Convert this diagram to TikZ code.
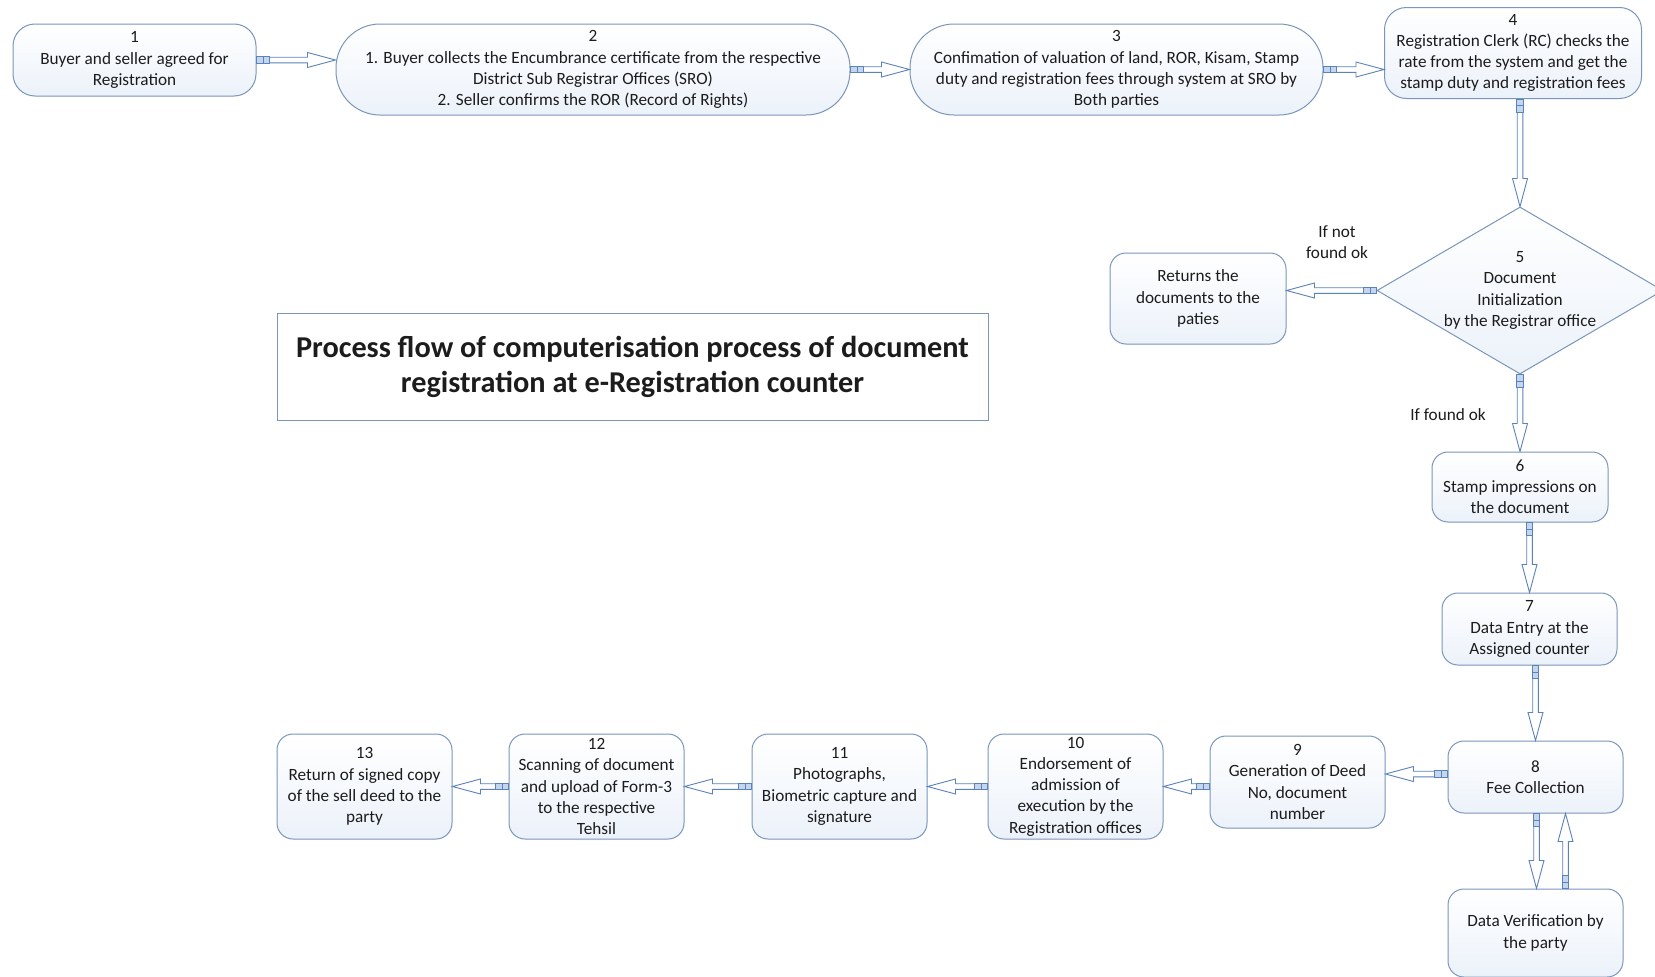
\documentclass[tikz,border=0pt]{standalone}
\usepackage{fontspec}
\setmainfont{Carlito}
\usetikzlibrary{calc,shapes.geometric}

\definecolor{boxline}{RGB}{122,150,186}
\definecolor{boxfill}{RGB}{236,242,250}
\definecolor{arrowline}{RGB}{92,130,186}
\definecolor{tailfill}{RGB}{196,214,238}
\definecolor{inktext}{RGB}{28,28,28}

\tikzset{
  stepbox/.style={draw=boxline, line width=1pt, rounded corners=16pt,
    top color=white, bottom color=boxfill, align=center, text=inktext,
    font=\fontsize{17.2}{21.2}\selectfont, inner sep=0pt},
  pillbox/.style={stepbox, rounded corners=44pt},
  decision/.style={draw=boxline, line width=1pt, diamond, top color=white,
    bottom color=boxfill, inner sep=0pt},
  plaintext/.style={align=center, text=inktext,
    font=\fontsize{17.2}{21.2}\selectfont, inner sep=0pt},
  titlebox/.style={draw=boxline, line width=1pt, fill=white, align=center,
    text=inktext, font=\fontsize{30.3}{35}\selectfont\bfseries, inner sep=0pt},
  arrowbody/.style={draw=arrowline, line width=0.9pt, fill=white, line join=miter},
  arrowtail/.style={draw=arrowline, line width=0.8pt, fill=tailfill},
}

% hollow block arrow with a small double-square tail, from #1 to #2
\newcommand{\flow}[2]{%
  \coordinate (fa) at (#1);
  \coordinate (fb) at (#2);
  \coordinate (ft) at ($(fa)!13pt!(fb)$);
  \coordinate (fh) at ($(fb)!28pt!(fa)$);
  \coordinate (fm) at ($(fa)!6.5pt!(fb)$);
  \path[arrowbody]
    ($(ft)!2.8pt!90:(fb)$) -- ($(fh)!2.8pt!90:(fb)$) -- ($(fh)!7.5pt!90:(fb)$)
    -- (fb) -- ($(fh)!7.5pt!-90:(fb)$) -- ($(fh)!2.8pt!-90:(fb)$)
    -- ($(ft)!2.8pt!-90:(fb)$) -- cycle;
  \path[arrowtail]
    ($(fa)!3.2pt!90:(fb)$) -- ($(ft)!3.2pt!90:(fb)$) -- ($(ft)!3.2pt!-90:(fb)$)
    -- ($(fa)!3.2pt!-90:(fb)$) -- cycle;
  \draw[arrowline, line width=0.8pt] ($(fm)!3.2pt!90:(fb)$) -- ($(fm)!3.2pt!-90:(fb)$);
}

\begin{document}
\begin{tikzpicture}[x=1pt, y=-1pt]
\path[use as bounding box, clip] (0,0) rectangle (1655,977);
\fill[white] (0,0) rectangle (1655,977);

% top row
\node[stepbox, rounded corners=22pt, minimum width=243pt, minimum height=72pt] (n1) at (134.5,60)
  {1\\Buyer and seller agreed for\\Registration};
\node[pillbox, minimum width=514pt, minimum height=91pt] (n2) at (593,69.5)
  {2\\1. Buyer collects the Encumbrance certificate from the respective\\District Sub Registrar Offices (SRO)\\2. Seller confirms the ROR (Record of Rights)};
\node[pillbox, minimum width=413pt, minimum height=91pt] (n3) at (1116.5,69.5)
  {3\\Confimation of valuation of land, ROR, Kisam, Stamp\\duty and registration fees through system at SRO by\\Both parties};
\node[stepbox, rounded corners=22pt, minimum width=257pt, minimum height=91pt] (n4) at (1513,53)
  {4\\Registration Clerk (RC) checks the\\rate from the system and get the\\stamp duty and registration fees};

% decision
\node[decision, minimum width=286pt, minimum height=167pt] (n5) at (1520,290.5) {};
\node[plaintext] (n5t) at (n5.center) {5\\Document\\Initialization\\by the Registrar office};
\node[stepbox, minimum width=176pt, minimum height=91pt] (ret) at (1198,298.5)
  {Returns the\\documents to the\\paties};
\node[plaintext] (lbno) at (1337,242) {If not\\found ok};
\node[plaintext] (lbok) at (1448,415) {If found ok};

% title
\node[titlebox, minimum width=711pt, minimum height=107pt] (title) at (632.5,366.5)
  {Process flow of computerisation process of document\\registration at e-Registration counter};

% right column
\node[stepbox, minimum width=176pt, minimum height=70pt] (n6) at (1520,487)
  {6\\Stamp impressions on\\the document};
\node[stepbox, minimum width=175pt, minimum height=72pt] (n7) at (1529.5,629)
  {7\\Data Entry at the\\Assigned counter};
\node[stepbox, minimum width=175pt, minimum height=72pt] (n8) at (1535.5,777)
  {8\\Fee Collection};
\node[stepbox, minimum width=175pt, minimum height=88pt] (dv) at (1535.5,933)
  {Data Verification by\\the party};

% bottom row
\node[stepbox, minimum width=175pt, minimum height=92pt] (n9) at (1297.5,782)
  {9\\Generation of Deed\\No, document\\number};
\node[stepbox, minimum width=175pt, minimum height=105pt] (n10) at (1075.5,786.5)
  {10\\Endorsement of\\admission of\\execution by the\\Registration offices};
\node[stepbox, minimum width=175pt, minimum height=105pt] (n11) at (839.5,786.5)
  {11\\Photographs,\\Biometric capture and\\signature};
\node[stepbox, minimum width=175pt, minimum height=105pt] (n12) at (596.5,786.5)
  {12\\Scanning of document\\and upload of Form-3\\to the respective\\Tehsil};
\node[stepbox, minimum width=175pt, minimum height=105pt] (n13) at (364.5,786.5)
  {13\\Return of signed copy\\of the sell deed to the\\party};

% connectors
\flow{n1.east}{n1.east -| n2.west}
\flow{n2.east}{n3.west}
\flow{n3.east}{n3.east -| n4.west}
\flow{n5.north |- n4.south}{n5.north}
\flow{n5.west}{n5.west -| ret.east}
\flow{n5.south}{n6.north}
\flow{n7.north |- n6.south}{n7.north}
\flow{n8.north |- n7.south}{n8.north}
\coordinate (f89) at ($(n8.west)+(0,-3)$);
\flow{f89}{f89 -| n9.east}
\coordinate (dvin) at ($(dv.north)+(1,0)$);
\coordinate (dvout) at ($(dv.north)+(30,0)$);
\flow{dvin |- n8.south}{dvin}
\flow{dvout}{dvout |- n8.south}
\flow{n9.west |- n10.east}{n10.east}
\flow{n10.west}{n11.east}
\flow{n11.west}{n12.east}
\flow{n12.west}{n13.east}
\end{tikzpicture}
\end{document}
